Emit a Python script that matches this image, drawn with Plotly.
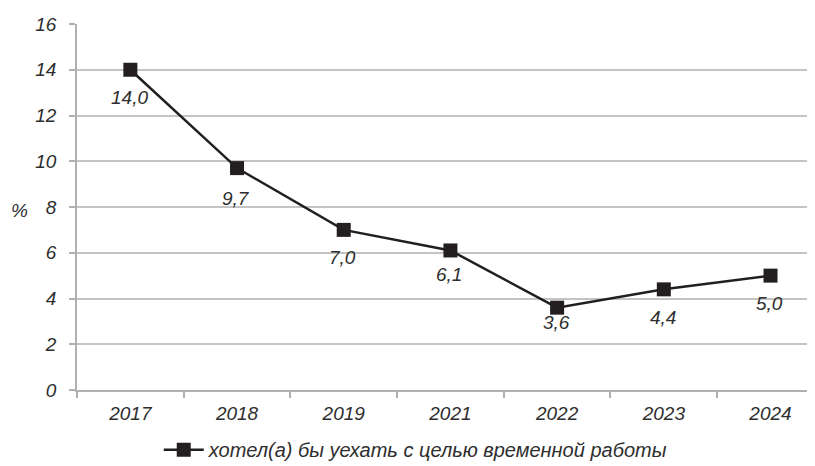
import plotly.graph_objects as go

years = ["2017", "2018", "2019", "2021", "2022", "2023", "2024"]
values = [14.0, 9.7, 7.0, 6.1, 3.6, 4.4, 5.0]
labels = ["14,0", "9,7", "7,0", "6,1", "3,6", "4,4", "5,0"]
label_shift = [-28, -30, -28, -24, -15, -28, -28]
series_name = "хотел(а) бы уехать с целью временной работы"
y_ticks = [0, 2, 4, 6, 8, 10, 12, 14, 16]

FONT = "Liberation Sans, Arial, sans-serif"
TXT = "#2e2e2e"
fnt = dict(family=FONT, size=19, color=TXT, style="italic")
legfnt = dict(family=FONT, size=20, color=TXT, style="italic")

fig = go.Figure()
fig.add_trace(go.Scatter(
    x=years, y=values, mode="lines+markers", name=series_name,
    line=dict(color="#231f20", width=2.5),
    marker=dict(symbol="square", size=14, color="#231f20"),
))

for i, (y, t, s) in enumerate(zip(values, labels, label_shift)):
    fig.add_annotation(x=i, y=y, xref="x", yref="y", text=t, showarrow=False,
                       yshift=s, xshift=-1, font=fnt)

fig.add_annotation(xref="paper", yref="paper", x=-0.078, y=0.49,
                   text="%", showarrow=False, font=fnt, xanchor="center")

fig.update_layout(
    width=807, height=458,
    margin=dict(l=69, r=0, t=16, b=76, autoexpand=False),
    plot_bgcolor="white", paper_bgcolor="white",
    font=fnt,
    showlegend=True,
    legend=dict(orientation="h", x=0.459, xanchor="center", y=-0.163,
                yanchor="middle", font=legfnt, itemwidth=40),
    xaxis=dict(type="category", range=[-0.5, 6.417], showgrid=False,
               showline=True, linecolor="#b0b0b0", linewidth=1.5,
               ticks="outside", tickson="boundaries", ticklen=6,
               tickcolor="#b0b0b0", tickwidth=1.5, tickfont=fnt,
               ticklabelstandoff=5, automargin=False),
    yaxis=dict(range=[0, 16], tickvals=y_ticks, showgrid=True,
               gridcolor="#c4c4c4", gridwidth=1.5,
               showline=True, linecolor="#b0b0b0", linewidth=1.5,
               ticks="outside", ticklen=6, tickcolor="#b0b0b0", tickwidth=1.5,
               tickfont=fnt, zeroline=False, ticklabelstandoff=9,
               automargin=False),
)

fig.write_html("out.html")
